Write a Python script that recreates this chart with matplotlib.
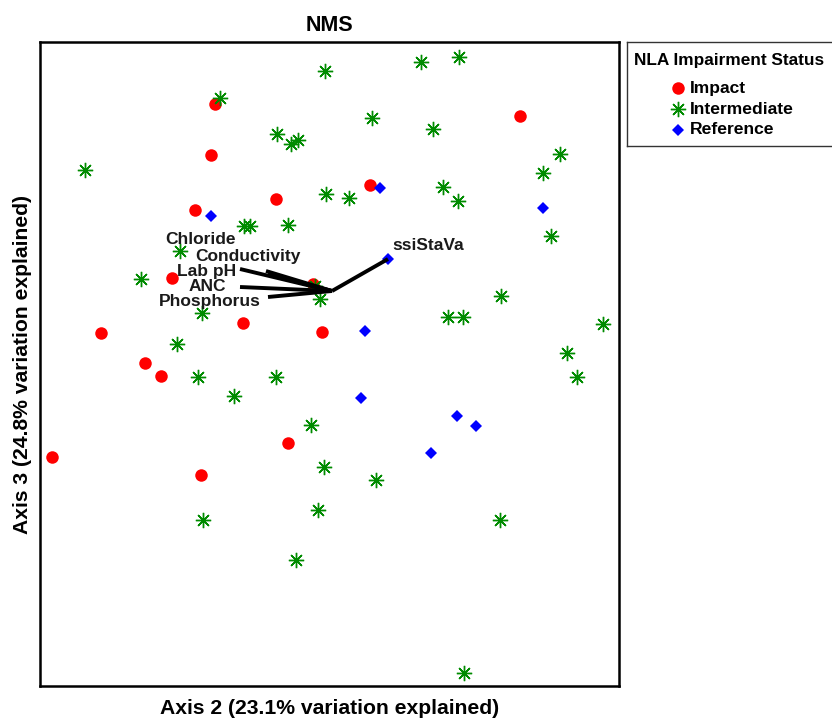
import matplotlib
matplotlib.use("Agg")
import matplotlib.pyplot as plt

plt.rcParams['font.family'] = ['Liberation Sans', 'DejaVu Sans']

# NMS scores (Axis 2, Axis 3)
impact_x = [-1.17, 1.88, -1.21, 0.38, -0.56, -1.37, -1.60, -0.19, -0.89, -0.10, -2.31, -1.87, -1.71, -0.44, -2.80, -1.31]
impact_y = [1.87, 1.75, 1.36, 1.06, 0.92, 0.81, 0.13, 0.07, -0.32, -0.41, -0.42, -0.72, -0.85, -1.52, -1.66, -1.84]

inter_x = [1.27, 0.89, -0.07, -1.12, 0.40, 1.01, -0.55, -0.34, -0.41, 2.28, -2.47, 2.11, 1.11, -0.06, 0.17, 1.26,
           -0.44, -0.88, -0.82, 2.19, -1.52, -1.91, -0.17, -0.12, 1.69, -1.30, 1.16, 1.31, 2.71, -1.55, 2.35, 2.45,
           -1.34, -0.56, -0.98, -0.21, -0.08, 0.44, -0.14, -1.29, 1.68, -0.36, 1.32]
inter_y = [2.34, 2.29, 2.20, 1.93, 1.73, 1.62, 1.57, 1.51, 1.47, 1.37, 1.21, 1.18, 1.04, 0.97, 0.93, 0.90,
           0.66, 0.65, 0.65, 0.55, 0.40, 0.12, 0.05, -0.08, -0.05, -0.22, -0.26, -0.26, -0.33, -0.53, -0.62, -0.86,
           -0.86, -0.86, -1.05, -1.34, -1.76, -1.89, -2.19, -2.29, -2.29, -2.69, -3.82]

ref_x = [-1.21, 0.48, 2.11, 0.56, 0.33, 0.29, 1.25, 1.44, 0.99]
ref_y = [0.75, 1.03, 0.83, 0.32, -0.40, -1.07, -1.25, -1.35, -1.62]

# environmental vectors
vec_names = ['ssiStaVa', 'Chloride', 'Conductivity', 'Lab pH', 'ANC', 'Phosphorus']
vec_x = [0.56, -0.66, -0.64, -0.92, -0.92, -0.64]
vec_y = [0.32, 0.20, 0.17, 0.22, 0.04, -0.06]
lab_x = [0.60, -0.96, -0.31, -0.96, -1.06, -0.71]
lab_y = [0.46, 0.52, 0.35, 0.195, 0.045, -0.105]
lab_ha = ['left', 'right', 'right', 'right', 'right', 'right']

status_labels = ['Impact', 'Intermediate', 'Reference']
c_red, c_green, c_blue = '#FF0000', '#008B00', '#0000FF'
ast = (8, 2, 0)
styles = [
    dict(marker='o', color=c_red, markersize=9, markeredgewidth=0),
    dict(marker=ast, color=c_green, markersize=11, markeredgewidth=1.0),
    dict(marker='D', color=c_blue, markersize=6.5, markeredgewidth=0),
]

fig = plt.figure(figsize=(8.32, 7.2), dpi=100)
ax = fig.add_axes([40/832, 34/720, 579/832, 644/720])

for xs, ys, st in zip([impact_x, inter_x, ref_x], [impact_y, inter_y, ref_y], styles):
    ax.plot(xs, ys, linestyle='none', zorder=3, **st)

for vx, vy, lx, ly, name, ha in zip(vec_x, vec_y, lab_x, lab_y, vec_names, lab_ha):
    ax.plot([0, vx], [0, vy], color='black', lw=2.8, solid_capstyle='butt', zorder=4)
    ax.text(lx, ly, name, ha=ha, va='center', fontsize=12.5, fontweight='bold', color='#1a1a1a', zorder=5)

ax.set_xlim(-2.92, 2.87)
ax.set_ylim(-3.95, 2.49)
ax.set_xticks([])
ax.set_yticks([])
for s in ax.spines.values():
    s.set_linewidth(1.8)
    s.set_color('black')

ax.set_title('NMS', fontsize=15.5, fontweight='bold', pad=8)
ax.set_xlabel('Axis 2 (23.1% variation explained)', fontsize=15.2, fontweight='bold', labelpad=9)
ax.set_ylabel('Axis 3 (24.8% variation explained)', fontsize=15.2, fontweight='bold', labelpad=6)

# legend drawn in its own panel (pixel-based coordinates)
lax = fig.add_axes([627/832, (720-146)/720, 1 - 627/832 + 0.01, 104/720])
lax.set_xlim(0, 211)
lax.set_ylim(104, 0)
lax.set_xticks([])
lax.set_yticks([])
for k, s in lax.spines.items():
    s.set_linewidth(1.0)
    s.set_color('#333333')
lax.spines['right'].set_visible(False)
lax.text(7, 19, 'NLA Impairment Status', ha='left', va='center', fontsize=12.4, fontweight='bold')
for i, (lab, st) in enumerate(zip(status_labels, styles)):
    yy = 46 + i * 21
    lax.plot([50], [yy], linestyle='none', **st)
    lax.text(62, yy, lab, ha='left', va='center', fontsize=12.6, fontweight='bold')

fig.savefig('out.png', dpi=100)
